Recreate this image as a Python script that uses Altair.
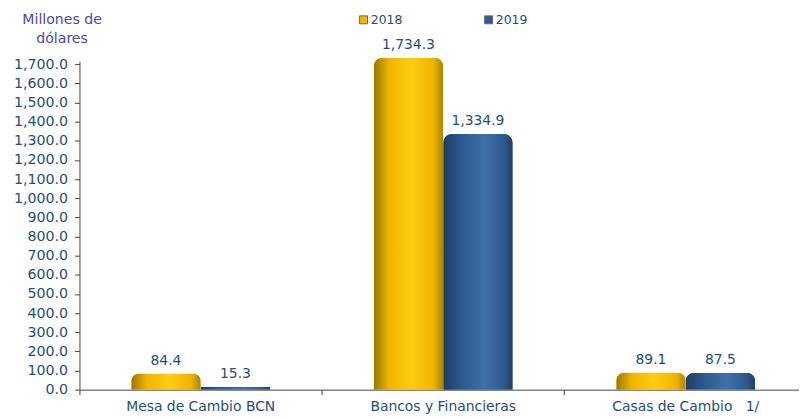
import altair as alt
import pandas as pd

categorias = ["Mesa de Cambio BCN", "Bancos y Financieras", "Casas de Cambio\u00a0\u00a0\u00a01/"]
serie_2018 = [84.4, 1734.3, 89.1]
serie_2019 = [15.3, 1334.9, 87.5]
series = ["2018", "2019"]
y_ticks = [i * 100 for i in range(18)]

rows = []
for c, a, b in zip(categorias, serie_2018, serie_2019):
    rows.append({"Cat": c, "Serie": "2018", "Valor": a})
    rows.append({"Cat": c, "Serie": "2019", "Valor": b})
df = pd.DataFrame(rows)

txt = "#1F4E79"
axc = "#444444"

x_enc = alt.X("Cat:N", sort=categorias, title=None,
              scale=alt.Scale(paddingInner=0, paddingOuter=0, range=[0, 733]),
              axis=alt.Axis(labelAngle=0, labelFontSize=14, labelColor=txt,
                            labelFont="DejaVu Sans", domainColor=axc, tickColor=axc,
                            tickSize=5, bandPosition=0, labelPadding=5))
xoff = alt.XOffset("Serie:N", sort=series,
                   scale=alt.Scale(paddingInner=0, paddingOuter=0.745))
y_enc = alt.Y("Valor:Q", scale=alt.Scale(domain=[0, 1716], nice=False),
              title=["Millones de", "dólares"],
              axis=alt.Axis(values=y_ticks, format=",.1f", grid=False,
                            labelFontSize=14.3, labelColor=txt, labelFont="DejaVu Sans",
                            domainColor=axc, tickColor=axc, tickSize=5, labelPadding=7,
                            titleAngle=0, titleAlign="center", titleBaseline="alphabetic",
                            titleX=-18, titleY=-38, titleFontSize=14.2,
                            titleFontWeight="normal", titleColor="#4A4AA8",
                            titleFont="DejaVu Sans", titleLineHeight=19))

base = alt.Chart(df)

solid = base.mark_bar(cornerRadiusEnd=9).encode(
    x=x_enc, xOffset=xoff, y=y_enc,
    color=alt.Color("Serie:N", sort=series,
                    scale=alt.Scale(domain=series, range=["#F2B800", "#2F5C92"]),
                    legend=alt.Legend(title=None, orient="none", legendX=280, legendY=-48,
                                      direction="horizontal", symbolType="square",
                                      symbolSize=64, symbolStrokeColor="#666",
                                      symbolStrokeWidth=1, labelFontSize=12.5,
                                      labelColor=txt, labelFont="DejaVu Sans",
                                      labelOffset=1, columnPadding=80))
)

gold = alt.Gradient(gradient="linear", x1=0, x2=1, y1=0, y2=0, stops=[
    alt.GradientStop(color="#9A7600", offset=0),
    alt.GradientStop(color="#EDB400", offset=0.22),
    alt.GradientStop(color="#FFCC14", offset=0.55),
    alt.GradientStop(color="#F0B400", offset=0.86),
    alt.GradientStop(color="#AA8400", offset=1)])
blue = alt.Gradient(gradient="linear", x1=0, x2=1, y1=0, y2=0, stops=[
    alt.GradientStop(color="#1E3D66", offset=0),
    alt.GradientStop(color="#2E5B90", offset=0.28),
    alt.GradientStop(color="#3F70A8", offset=0.6),
    alt.GradientStop(color="#2D598C", offset=0.88),
    alt.GradientStop(color="#1F3F69", offset=1)])

g18 = base.transform_filter(alt.datum.Serie == "2018").mark_bar(
    cornerRadiusEnd=9, fill=gold).encode(x=x_enc, xOffset=xoff, y=y_enc)
g19 = base.transform_filter(alt.datum.Serie == "2019").mark_bar(
    cornerRadiusEnd=9, fill=blue).encode(x=x_enc, xOffset=xoff, y=y_enc)

labels = base.mark_text(baseline="bottom", dy=-6, fontSize=14, color=txt,
                        font="DejaVu Sans").encode(
    x=x_enc, xOffset=xoff, y=y_enc, text=alt.Text("Valor:Q", format=",.1f"))

chart = alt.layer(solid, g18, g19, labels).properties(
    width=725, height=331,
    autosize=alt.AutoSizeParams(type="none"),
    padding={"left": 72, "top": 52, "right": 0, "bottom": 25},
).configure_view(stroke=None)

chart.save("out.html", embed_options={"renderer": "svg", "actions": False})
